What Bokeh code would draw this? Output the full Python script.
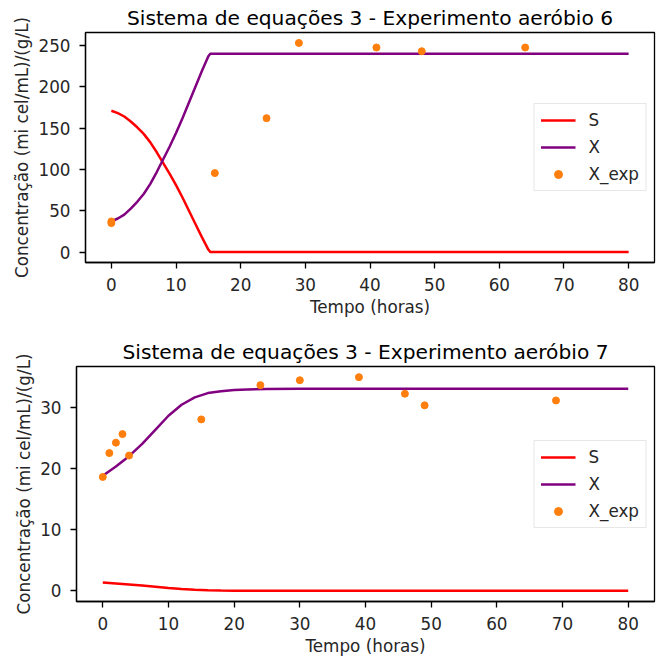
from bokeh.plotting import figure
from bokeh.layouts import column, row
from bokeh.models import Range1d, FixedTicker, Legend, LegendItem
from bokeh.embed import file_html
from bokeh.resources import INLINE

# ---------------- data: experiment 6 ----------------
t6_model = [0, 1, 2, 3, 4, 5, 6, 7, 8, 9, 10, 11, 12, 13, 14, 15, 15.3, 80]
S6 = [171, 168, 164, 158, 151, 143, 133, 121, 108, 95, 81, 66, 50, 34, 18, 3, 0, 0]
X6 = [37, 40.6, 45.3, 52.5, 60.8, 70.3, 82.2, 96.5, 112, 127.4, 144, 162, 181, 200, 219, 237, 240, 240]
t6_exp = [0, 0, 16, 24, 29, 41, 48, 64]
X6_exp = [35, 37, 95.5, 162, 253, 247.5, 243, 247.5]

# ---------------- data: experiment 7 ----------------
t7_model = [0, 2, 4, 6, 8, 10, 12, 14, 16, 18, 20, 22, 25, 30, 40, 80]
S7 = [1.35, 1.2, 1.05, 0.85, 0.65, 0.45, 0.3, 0.18, 0.1, 0.06, 0.03, 0.02, 0.01, 0.0, 0.0, 0.0]
X7 = [18.8, 20.3, 22.0, 24.0, 26.3, 28.6, 30.4, 31.6, 32.3, 32.6, 32.8, 32.9, 32.95, 33.0, 33.0, 33.0]
t7_exp = [0, 1, 2, 3, 4, 15, 24, 30, 39, 46, 49, 69]
X7_exp = [18.6, 22.5, 24.2, 25.6, 22.1, 28.0, 33.6, 34.4, 34.9, 32.2, 30.3, 31.1]

x_ticks = [0, 10, 20, 30, 40, 50, 60, 70, 80]
y_ticks6 = [0, 50, 100, 150, 200, 250]
y_ticks7 = [0, 10, 20, 30]

titles = ["Sistema de equações 3 - Experimento aeróbio 6",
          "Sistema de equações 3 - Experimento aeróbio 7"]
x_label = "Tempo (horas)"
y_label = "Concentração (mi cel/mL)/(g/L)"

FONT = "DejaVu Sans"
TICK_FS = "16.8px"
TITLE_FS = "20.2px"


def make_fig(title, t_m, S, X, t_e, Xe, yticks, left, top, bottom, frame_h):
    allv = list(S) + list(X) + list(Xe)
    ymin, ymax = min(allv), max(allv)
    pad = 0.05 * (ymax - ymin)
    p = figure(frame_width=654 - left, frame_height=frame_h,
               x_range=Range1d(-4, 84), y_range=Range1d(ymin - pad, ymax + pad),
               output_backend="svg", toolbar_location=None,
               min_border_left=left, min_border_right=8,
               min_border_top=top, min_border_bottom=bottom,
               title=title)
    p.title.text_font = FONT
    p.title.text_font_size = TITLE_FS
    p.title.text_font_style = "normal"
    p.title.align = "center"
    p.title.text_color = "black"
    p.title.standoff = 6

    p.xgrid.visible = False
    p.ygrid.visible = False
    p.outline_line_color = "black"
    p.outline_line_width = 1.3
    p.outline_line_alpha = 1.0
    p.background_fill_color = "white"
    p.border_fill_color = "white"

    for ax in (p.xaxis[0], p.yaxis[0]):
        ax.axis_line_color = "black"
        ax.axis_line_width = 1.3
        ax.major_tick_line_color = "black"
        ax.major_tick_line_width = 1.3
        ax.major_tick_out = 6
        ax.major_tick_in = 0
        ax.minor_tick_line_color = None
        ax.major_label_text_font = FONT
        ax.major_label_text_font_size = TICK_FS
        ax.major_label_text_color = "#262626"
        ax.axis_label_text_font = FONT
        ax.axis_label_text_font_size = TICK_FS
        ax.axis_label_text_font_style = "normal"
        ax.axis_label_text_color = "#262626"
        ax.major_label_standoff = 9
        ax.axis_label_standoff = 3
    p.xaxis[0].ticker = FixedTicker(ticks=x_ticks)
    p.yaxis[0].ticker = FixedTicker(ticks=yticks)
    p.xaxis[0].axis_label = x_label
    p.yaxis[0].axis_label = y_label

    rS = p.line(t_m, S, line_color="#ff0000", line_width=2.5)
    rX = p.line(t_m, X, line_color="#800080", line_width=2.5)
    rE = p.scatter(t_e, Xe, size=7, fill_color="#ff7f0e", line_color="#ff7f0e")

    legend = Legend(items=[LegendItem(label="S", renderers=[rS]),
                           LegendItem(label="X", renderers=[rX]),
                           LegendItem(label="X_exp", renderers=[rE])],
                    location="center_right")
    legend.margin = 8
    legend.padding = 6
    legend.spacing = 7
    legend.glyph_width = 35
    legend.glyph_height = 20
    legend.label_height = 20
    legend.label_standoff = 13
    legend.label_text_font = FONT
    legend.label_text_font_size = TICK_FS
    legend.label_text_color = "#262626"
    legend.border_line_color = "#d0d0d0"
    legend.border_line_width = 1
    legend.background_fill_color = "white"
    legend.background_fill_alpha = 0.8
    p.add_layout(legend)
    return p


p1 = make_fig(titles[0], t6_model, S6, X6, t6_exp, X6_exp, y_ticks6, 85, 32, 68, 230)
p2 = make_fig(titles[1], t7_model, S7, X7, t7_exp, X7_exp, y_ticks7, 76, 36, 60, 235)

layout = column(row(p1), row(p2), spacing=0)
open("out.html", "w").write(file_html(layout, INLINE))
